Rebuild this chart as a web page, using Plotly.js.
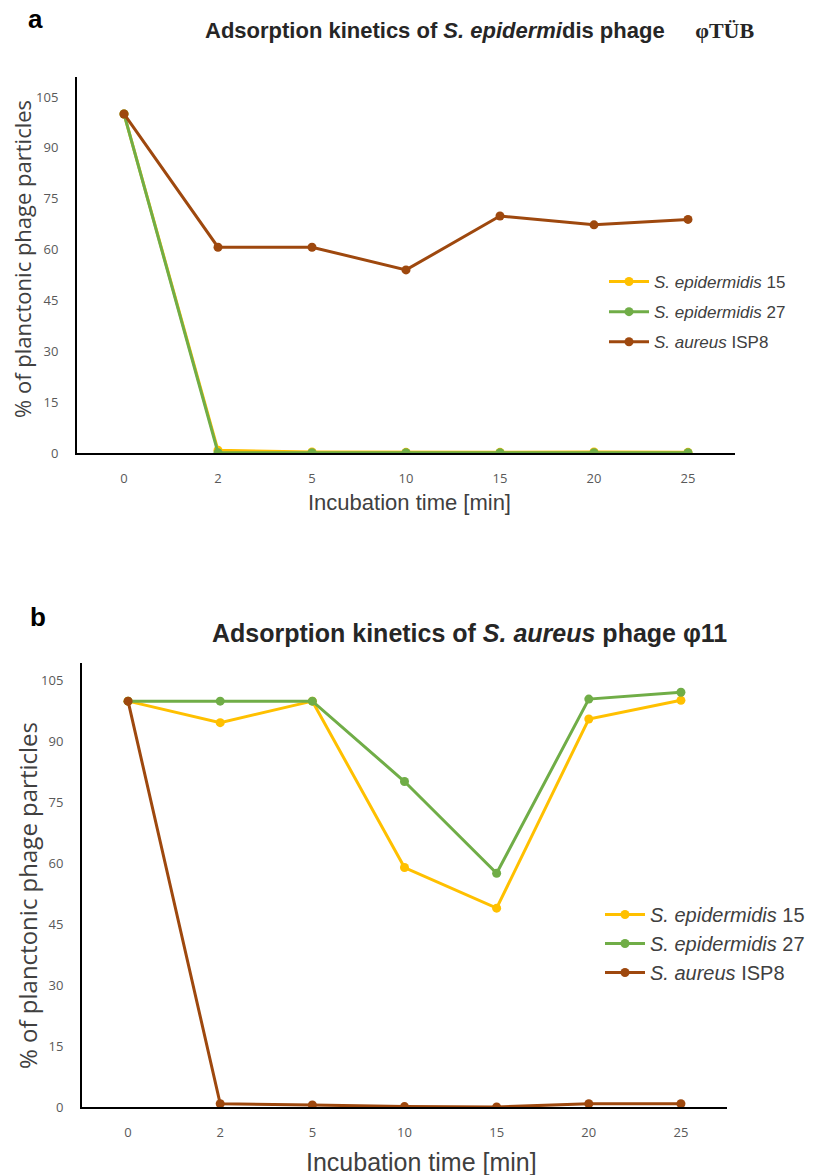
<!DOCTYPE html>
<html>
<head>
<meta charset="utf-8">
<script src="https://cdn.plot.ly/plotly-3.0.1.min.js"></script>
<style>html,body{margin:0;padding:0;background:#fff;}#chart{width:821px;height:1175px;}</style>
</head>
<body>
<div id="chart"></div>
<script>
// ---- data ----
const times = ['0', '2', '5', '10', '15', '20', '25'];
const seriesNames = ['<i>S. epidermidis</i> 15', '<i>S. epidermidis</i> 27', '<i>S. aureus</i> ISP8'];
const seriesColors = ['#FFC000', '#70AD47', '#9E480E'];

// Panel a: S. epidermidis phage φTÜB
const a_epi15 = [100, 0.8, 0.3, 0.2, 0.2, 0.3, 0.2];
const a_epi27 = [100, 0.1, 0.1, 0.1, 0.1, 0.1, 0.1];
const a_isp8  = [100, 60.7, 60.7, 54.0, 69.9, 67.3, 68.9];

// Panel b: S. aureus phage φ11
const b_epi15 = [100, 94.7, 100, 59.0, 49.0, 95.6, 100.2];
const b_epi27 = [100, 100, 100, 80.2, 57.6, 100.5, 102.2];
const b_isp8  = [100, 0.8, 0.5, 0.1, 0.0, 0.8, 0.8];

const yTicks = [0, 15, 30, 45, 60, 75, 90, 105];

// ---- traces ----
function mk(y, i, xa, ya, leg, grp) {
  return {
    x: times, y: y, type: 'scatter', mode: 'lines+markers',
    name: seriesNames[i], xaxis: xa, yaxis: ya, legend: leg, legendgroup: grp + i,
    line: {color: seriesColors[i], width: 3},
    marker: {color: seriesColors[i], size: 9}
  };
}
const data = [
  mk(a_epi15, 0, 'x', 'y', 'legend', 'a'),
  mk(a_epi27, 1, 'x', 'y', 'legend', 'a'),
  mk(a_isp8, 2, 'x', 'y', 'legend', 'a'),
  mk(b_epi15, 0, 'x2', 'y2', 'legend2', 'b'),
  mk(b_epi27, 1, 'x2', 'y2', 'legend2', 'b'),
  mk(b_isp8, 2, 'x2', 'y2', 'legend2', 'b')
];

const W = 821, H = 1175;
const px = v => v / W, py = v => 1 - v / H;

function xax(d) {
  return {
    domain: d, type: 'category', categoryorder: 'array', categoryarray: times,
    range: [-0.5, 6.5], showgrid: false, zeroline: false,
    showline: true, linecolor: '#000', linewidth: 2,
    ticks: '', ticklabelstandoff: 12,
    tickfont: {family: 'Open Sans, sans-serif', size: 13, color: '#595959'},
    fixedrange: true, automargin: false
  };
}
function yax(d, top, anchor) {
  return {
    domain: d, range: [0, top], tickvals: yTicks, showgrid: false, zeroline: false,
    showline: true, linecolor: '#000', linewidth: 2, anchor: anchor,
    ticks: '', ticklabelstandoff: 14,
    tickfont: {family: 'Open Sans, sans-serif', size: 13, color: '#595959'},
    fixedrange: true, automargin: false
  };
}

const sans = 'Liberation Sans, Arial, sans-serif';
function ann(text, x, y, size, extra) {
  return Object.assign({
    text: text, x: px(x), y: py(y), xref: 'paper', yref: 'paper',
    xanchor: 'center', yanchor: 'middle', showarrow: false,
    font: {family: sans, size: size, color: '#404040'}
  }, extra || {});
}
const layout = {
  width: W, height: H,
  margin: {l: 0, r: 0, t: 0, b: 0},
  paper_bgcolor: '#fff', plot_bgcolor: '#fff',
  showlegend: true,
  xaxis: xax([px(77), px(735)]),
  yaxis: yax([py(453), py(77)], 110.9, 'x'),
  xaxis2: Object.assign(xax([px(82), px(727)]), {anchor: 'y2'}),
  yaxis2: yax([py(1107), py(663)], 109.4, 'x2'),
  legend: {
    x: px(604), y: py(264), xanchor: 'left', yanchor: 'top',
    bgcolor: 'rgba(0,0,0,0)', font: {family: sans, size: 17, color: '#404040'},
    tracegroupgap: 5, itemwidth: 40
  },
  legend2: {
    x: px(600), y: py(895), xanchor: 'left', yanchor: 'top',
    bgcolor: 'rgba(0,0,0,0)', font: {family: sans, size: 20, color: '#404040'},
    tracegroupgap: 0, itemwidth: 40
  },
  annotations: [
    ann('<b>a</b>', 35, 19, 26, {font: {family: sans, size: 26, color: '#000'}}),
    ann('<b>b</b>', 38, 617, 26, {font: {family: sans, size: 26, color: '#000'}}),
    ann('<b>Adsorption kinetics of <i>S. epidermi</i>dis phage</b>     <span style="font-family:\'Liberation Serif\',serif;font-weight:bold">φTÜB</span>',
        203, 31, 22, {xanchor: 'left', font: {family: sans, size: 22, color: '#262626'}}),
    ann('<b>Adsorption kinetics of <i>S. aureus</i> phage φ11</b>',
        210, 633, 25, {xanchor: 'left', font: {family: sans, size: 25, color: '#262626'}}),
    ann('% of planctonic phage particles', 22, 259, 22, {textangle: -90, font: {family: 'Open Sans, sans-serif', size: 22, color: '#404040'}}),
    ann('% of planctonic phage particles', 27, 896, 24, {textangle: -90, font: {family: 'Open Sans, sans-serif', size: 24, color: '#404040'}}),
    ann('Incubation time [min]', 409, 503, 22),
    ann('Incubation time [min]', 421, 1162, 25)
  ]
};

Plotly.newPlot('chart', data, layout, {displayModeBar: false, staticPlot: true});
</script>
</body>
</html>
